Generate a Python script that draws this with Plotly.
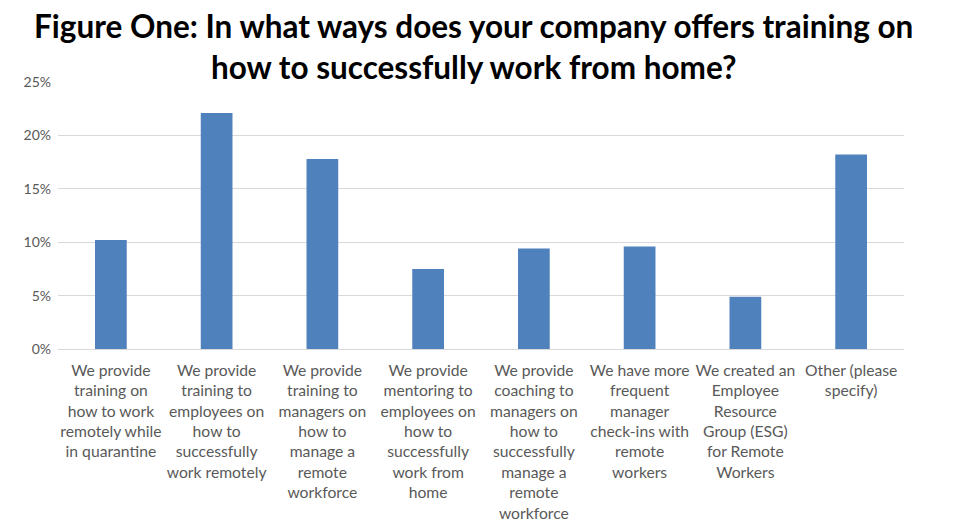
import plotly.graph_objects as go

CATEGORIES = [
    "We provide<br>training on<br>how to work<br>remotely while<br>in quarantine",
    "We provide<br>training to<br>employees on<br>how to<br>successfully<br>work remotely",
    "We provide<br>training to<br>managers on<br>how to<br>manage a<br>remote<br>workforce",
    "We provide<br>mentoring to<br>employees on<br>how to<br>successfully<br>work from<br>home",
    "We provide<br>coaching to<br>managers on<br>how to<br>successfully<br>manage a<br>remote<br>workforce",
    "We have more<br>frequent<br>manager<br>check-ins with<br>remote<br>workers",
    "We created an<br>Employee<br>Resource<br>Group (ESG)<br>for Remote<br>Workers",
    "Other (please<br>specify)",
]
SHARES = [0.102, 0.221, 0.178, 0.075, 0.094, 0.096, 0.049, 0.182]
Y_TICKS = [0, 0.05, 0.10, 0.15, 0.20, 0.25]
Y_TICK_LABELS = ["0%", "5%", "10%", "15%", "20%", "25%"]

TITLE = (
    "<b>Figure One: In what ways does your company offers training on<br>"
    "how to successfully work from home?</b>"
)

fig = go.Figure(
    go.Bar(
        x=CATEGORIES,
        y=SHARES,
        marker=dict(color="#4f81bd", line=dict(width=0)),
    )
)

# the page body keeps its default 8px margin, so the figure is a bit smaller
fig.update_layout(
    width=950,
    height=521,
    plot_bgcolor="white",
    paper_bgcolor="white",
    bargap=0.7,
    showlegend=False,
    margin=dict(l=50, r=54, t=74, b=180),
    font=dict(family="Lato", size=15, color="#595959"),
    annotations=[
        dict(
            text=TITLE,
            xref="paper",
            yref="paper",
            x=0.491,
            y=1.29,
            xanchor="center",
            yanchor="top",
            showarrow=False,
            align="center",
            font=dict(family="Lato", size=31.5, color="black"),
        )
    ],
)
fig.update_xaxes(
    automargin=False,
    showgrid=False,
    showline=True,
    linecolor="#d9d9d9",
    linewidth=1,
    ticks="",
    tickangle=0,
    ticklabelstandoff=7,
    tickfont=dict(size=15.7, color="#595959"),
)
fig.update_yaxes(
    automargin=False,
    range=[0, 0.25],
    tickvals=Y_TICKS,
    ticktext=Y_TICK_LABELS,
    showgrid=True,
    gridcolor="#d9d9d9",
    gridwidth=1,
    zeroline=False,
    showline=False,
    ticks="",
    ticklabelstandoff=6,
    tickfont=dict(size=14, color="#595959"),
)

fig.write_html("out.html")
